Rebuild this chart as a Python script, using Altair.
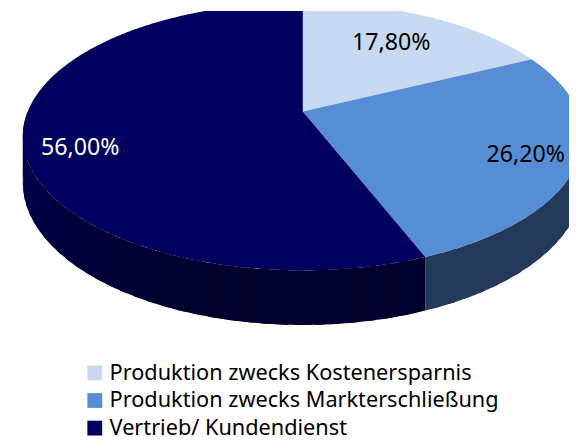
import math
import altair as alt

# ---- data ----
categories = ["Produktion zwecks Kostenersparnis",
              "Produktion zwecks Markterschließung",
              "Vertrieb/ Kundendienst"]
shares = [17.8, 26.2, 56.0]
labels = ["17,80%", "26,20%", "56,00%"]

top_colors = ["#c6d9f1", "#558ed5", "#00005e"]
label_colors = ["#000000", "#000000", "#ffffff"]
label_nudge = [(-13, 8), (12, 5), (-6, 17)]   # style: (dx, dy) in px

# ---- 3D pie geometry (perspective disk) ----
K = 0.186          # perspective strength
RATIO = 0.47
DEPTH = 45 / 279   # wall height in unit radius
LABEL_R = 0.78


def proj(theta, r=1.0, drop=0.0):
    t = math.radians(theta)
    u = r * math.sin(t)
    v = -r * math.cos(t)
    w = 1 - K * v
    return [u / w, RATIO * v / w + drop / w]


def hexmix(c1, c2, f):
    a = [int(c1[i:i + 2], 16) for i in (1, 3, 5)]
    b = [int(c2[i:i + 2], 16) for i in (1, 3, 5)]
    return "#" + "".join(f"{round(x + (y - x) * f):02x}" for x, y in zip(a, b))


tops, walls, texts = [], [], []
start = 0.0
for cat, s, lab, lc in zip(categories, shares, labels, label_colors):
    end = start + s * 3.6
    n = max(2, int((end - start) * 2))
    ring = [proj(start + (end - start) * i / n) for i in range(n + 1)]
    poly = [[0.0, 0.0]] + ring + [[0.0, 0.0]]
    tops.append({"type": "Feature",
                 "geometry": {"type": "Polygon", "coordinates": [poly]},
                 "properties": {"cat": cat}})
    # visible front walls
    a0, a1 = max(start, 90.0), min(end, 270.0)
    if a1 > a0:
        steps = max(1, int((a1 - a0) / 3))
        for i in range(steps):
            t1 = a0 + (a1 - a0) * i / steps
            t2 = min(a1, a0 + (a1 - a0) * (i + 1) / steps + 1.5)
            if cat == categories[2]:
                f = (t1 - 200.0) / (270.0 - 200.0)
                col = hexmix("#00002e", "#000054", max(0, min(1, f)))
            else:
                col = "#25395a"
            m = 8
            edge_top = [proj(t1 + (t2 - t1) * j / m) for j in range(m + 1)]
            edge_bot = [proj(t2 - (t2 - t1) * j / m, drop=DEPTH) for j in range(m + 1)]
            q = edge_top + edge_bot + [edge_top[0]]
            walls.append({"type": "Feature",
                          "geometry": {"type": "Polygon", "coordinates": [q]},
                          "properties": {"fill": col}})
    mid = (start + end) / 2
    lx, ly = proj(mid, r=LABEL_R)
    texts.append({"lx": lx, "ly": ly, "label": lab, "tc": lc})
    start = end

PROJ = dict(type="identity", scale=279, translate=[299, 102])

walls_layer = alt.Chart(alt.Data(values=walls)).mark_geoshape(strokeWidth=0).encode(
    color=alt.Color("properties.fill:N", scale=None),
).project(**PROJ)

tops_layer = alt.Chart(alt.Data(values=tops)).mark_geoshape(strokeWidth=0).encode(
    color=alt.Color("properties.cat:N",
                    scale=alt.Scale(domain=categories, range=top_colors),
                    sort=categories,
                    legend=alt.Legend(title=None, orient="none", legendX=77, legendY=356,
                                      symbolType="square", symbolSize=225,
                                      symbolStrokeWidth=0, labelFontSize=22,
                                      labelFont="Noto Sans", labelColor="#000000",
                                      labelLimit=600, rowPadding=6, labelOffset=4,
                                      padding=0)),
).project(**PROJ)

text_layers = []
for i, t in enumerate(texts):
    dx, dy = label_nudge[i]
    text_layers.append(
        alt.Chart(alt.Data(values=[t])).mark_text(
            font="Noto Sans", fontSize=23.5, baseline="middle", align="center",
            dx=dx, dy=dy
        ).encode(
            longitude="lx:Q", latitude="ly:Q", text="label:N",
            color=alt.Color("tc:N", scale=None),
        ).project(**PROJ)
    )

chart = alt.layer(walls_layer, tops_layer, *text_layers).resolve_scale(
    color="independent"
).properties(
    width=569, height=434, padding=0, autosize="none"
).configure_view(stroke=None)

chart.save("out.html", embed_options={"renderer": "svg", "actions": False})
